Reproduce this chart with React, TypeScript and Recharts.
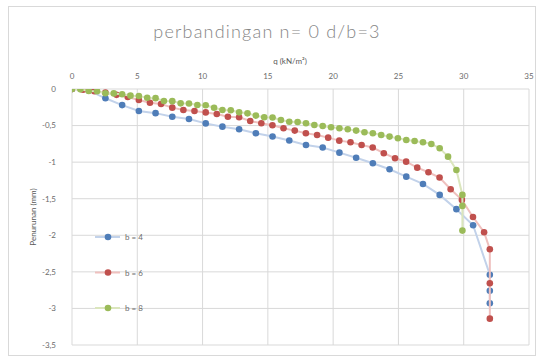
import React from "react";
import { ScatterChart, Scatter, XAxis, YAxis, CartesianGrid } from "recharts";

// b = 4
const qB4 = [0, 1.28, 2.56, 3.84, 5.12, 6.4, 7.68, 8.96, 10.24, 11.52, 12.8, 14.08, 15.36, 16.64, 17.92, 19.2, 20.48, 21.76, 23.04, 24.32, 25.6, 26.88, 28.16, 29.44, 30.72, 32, 32, 32];
const sB4 = [0, -0.02, -0.127, -0.22, -0.3, -0.33, -0.38, -0.41, -0.47, -0.515, -0.55, -0.605, -0.65, -0.705, -0.765, -0.8, -0.87, -0.94, -1.015, -1.097, -1.198, -1.298, -1.448, -1.643, -1.862, -2.54, -2.76, -2.93];

// b = 6
const qB6 = [0, 0.85, 1.71, 2.56, 3.41, 4.27, 5.12, 5.97, 6.82, 7.68, 8.53, 9.38, 10.24, 11.09, 11.94, 12.8, 13.65, 14.5, 15.35, 16.2, 17.06, 17.91, 18.77, 19.62, 20.47, 21.33, 22.18, 23.03, 23.88, 24.74, 25.59, 26.44, 27.3, 28.15, 29.0, 29.86, 30.71, 31.56, 32, 32, 32];
const sB6 = [0, -0.01, -0.03, -0.05, -0.08, -0.11, -0.15, -0.187, -0.205, -0.255, -0.287, -0.3, -0.32, -0.342, -0.379, -0.387, -0.437, -0.469, -0.496, -0.537, -0.569, -0.605, -0.628, -0.665, -0.706, -0.728, -0.765, -0.8, -0.878, -0.947, -0.993, -1.075, -1.138, -1.21, -1.37, -1.516, -1.75, -1.958, -2.19, -2.655, -3.14];

// b = 8
const qB8 = [0, 0.64, 1.28, 1.92, 2.56, 3.2, 3.84, 4.48, 5.12, 5.76, 6.4, 7.04, 7.68, 8.32, 8.96, 9.6, 10.24, 10.88, 11.52, 12.16, 12.8, 13.44, 14.08, 14.72, 15.36, 16.0, 16.64, 17.28, 17.92, 18.56, 19.2, 19.84, 20.48, 21.12, 21.76, 22.4, 23.04, 23.68, 24.32, 24.96, 25.6, 26.24, 26.88, 27.52, 28.16, 28.8, 29.44, 29.9, 29.9, 29.9];
const sB8 = [0, -0.005, -0.027, -0.03, -0.059, -0.06, -0.072, -0.091, -0.096, -0.12, -0.125, -0.164, -0.166, -0.196, -0.198, -0.219, -0.222, -0.256, -0.287, -0.29, -0.319, -0.333, -0.364, -0.387, -0.39, -0.424, -0.447, -0.452, -0.469, -0.492, -0.505, -0.523, -0.537, -0.551, -0.569, -0.592, -0.605, -0.628, -0.651, -0.674, -0.697, -0.71, -0.728, -0.751, -0.81, -0.925, -1.107, -1.448, -1.598, -1.936];

const xTicks = [0, 5, 10, 15, 20, 25, 30, 35];
const yTicks = [0, -0.5, -1, -1.5, -2, -2.5, -3, -3.5];

const seriesNames = ["b = 4", "b = 6", "b = 8"];
const markerColors = ["#4f7db8", "#c0504d", "#9bbb59"];
const lineColors = ["#c2d2ea", "#efc0be", "#dbe6bd"];

const toRows = (q: number[], s: number[]) => q.map((x, i) => ({ q: x, s: s[i] }));
const dataSets = [toRows(qB4, sB4), toRows(qB6, sB6), toRows(qB8, sB8)];

const fmt = (v: number) => String(v).replace(".", ",");

const FONT = "Lato, 'Open Sans', sans-serif";

const Dot = (color: string) => (props: any) => {
  const { cx, cy } = props;
  if (cx == null || cy == null) return <g />;
  return <circle cx={cx} cy={cy} r={3.3} fill={color} stroke="none" />;
};

export default function App() {
  return (
    <div style={{ position: "absolute", left: 0, top: 0, width: 545, height: 363, background: "#fff", fontFamily: FONT }}>
      <div style={{ position: "absolute", left: 8, top: 6, width: 528, height: 350, border: "1px solid #d9d9d9", boxSizing: "border-box" }} />
      <div style={{ position: "absolute", left: 0, top: 19, width: 534, textAlign: "center", fontSize: 18, fontWeight: 300, color: "#858585", letterSpacing: 1.2, lineHeight: "24px" }}>
        perbandingan n= 0 d/b=3
      </div>
      <div style={{ position: "absolute", left: 0, top: 56, width: 580, textAlign: "center", fontSize: 8, color: "#595959", lineHeight: "10px" }}>
        q (kN/m²)
      </div>
      <div style={{ position: "absolute", left: 33, top: 217, width: 0, height: 0 }}>
        <div style={{ position: "absolute", left: -60, top: -5, width: 120, textAlign: "center", fontSize: 8, color: "#595959", lineHeight: "10px", transform: "rotate(-90deg)" }}>
          Penurunan  (mm)
        </div>
      </div>
      <ScatterChart width={545} height={363} margin={{ top: 69, right: 16, bottom: 18, left: 32 }} style={{ position: "absolute", left: 0, top: 0 }}>
        <CartesianGrid stroke="#d9d9d9" strokeWidth={1} />
        <XAxis
          type="number"
          dataKey="q"
          orientation="top"
          domain={[0, 35]}
          ticks={xTicks}
          axisLine={false}
          tickLine={false}
          height={20}
          tick={{ fontSize: 8, fill: "#6b6b6b", fontFamily: FONT }}
          tickFormatter={fmt}
          tickMargin={4}
          allowDataOverflow
        />
        <YAxis
          type="number"
          dataKey="s"
          domain={[-3.5, 0]}
          ticks={yTicks}
          axisLine={false}
          tickLine={false}
          width={40}
          tick={{ fontSize: 8, fill: "#6b6b6b", fontFamily: FONT }}
          tickFormatter={fmt}
          tickMargin={10}
          allowDataOverflow
        />
        {dataSets.map((d, i) => (
          <Scatter
            key={seriesNames[i]}
            name={seriesNames[i]}
            data={d}
            line={{ stroke: lineColors[i], strokeWidth: 2 }}
            lineType="joint"
            shape={Dot(markerColors[i])}
            isAnimationActive={false}
          />
        ))}
      </ScatterChart>
      <svg width={120} height={110} style={{ position: "absolute", left: 90, top: 222 }}>
        {seriesNames.map((n, i) => {
          const y = 15 + i * 35.5;
          return (
            <g key={n}>
              <line x1={5} x2={30} y1={y} y2={y} stroke={lineColors[i]} strokeWidth={2} />
              <circle cx={18} cy={y} r={3.3} fill={markerColors[i]} />
              <text x={35} y={y + 3} fontSize={8} fill="#6b6b6b" fontFamily={FONT}>{n}</text>
            </g>
          );
        })}
      </svg>
    </div>
  );
}
